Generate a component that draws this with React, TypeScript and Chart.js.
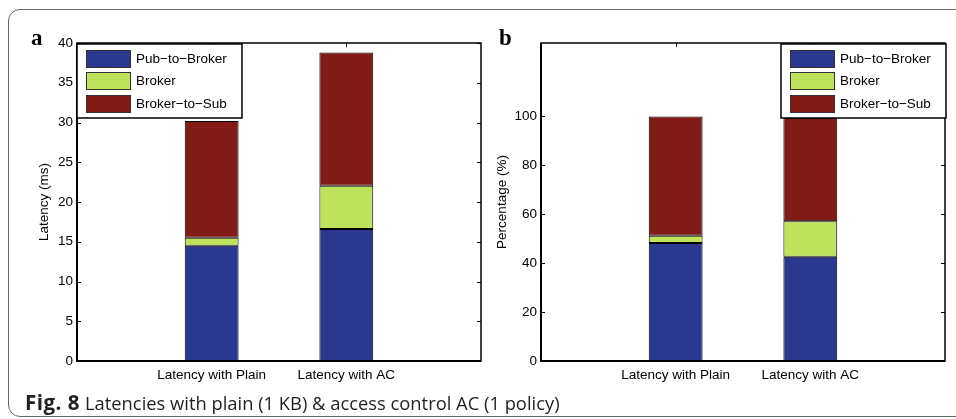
import React, { useEffect, useRef } from 'react';
import { Chart, registerables } from 'chart.js';

Chart.register(...registerables);

// ---- data ----
const categories = ['Latency with Plain', 'Latency with AC'];
const seriesNames = ['Pub\u2212to\u2212Broker', 'Broker', 'Broker\u2212to\u2212Sub'];
const seriesColors = ['#2C388F', '#BEE35B', '#821A15'];

const latencyPubToBroker = [14.5, 16.6];
const latencyBroker = [1.0, 5.45];
const latencyBrokerToSub = [14.7, 16.75];

const percentPubToBroker = [48.2, 42.6];
const percentBroker = [3.0, 14.5];
const percentBrokerToSub = [48.8, 42.2];

const latencyTicks = [0, 5, 10, 15, 20, 25, 30, 35, 40];
const percentTicks = [0, 20, 40, 60, 80, 100];

const FONT = '"Liberation Sans", Arial, sans-serif';
const FS = 13.5;

const axesBoxPlugin = {
  id: 'axesBox',
  beforeDatasetsDraw(chart: any) {
    const { ctx, chartArea: a, scales } = chart;
    const tl = 4;
    ctx.save();
    ctx.strokeStyle = '#000';
    ctx.lineWidth = 1;
    ctx.beginPath();
    scales.y.ticks.forEach((t: any) => {
      const py = Math.round(scales.y.getPixelForValue(t.value)) + 0.5;
      ctx.moveTo(a.left, py);
      ctx.lineTo(a.left + tl, py);
      ctx.moveTo(a.right, py);
      ctx.lineTo(a.right - tl, py);
    });
    scales.x.ticks.forEach((t: any) => {
      const px = Math.round(scales.x.getPixelForValue(t.value)) + 0.5;
      ctx.moveTo(px, a.top);
      ctx.lineTo(px, a.top + tl);
      ctx.moveTo(px, a.bottom);
      ctx.lineTo(px, a.bottom - tl);
    });
    ctx.stroke();
    ctx.restore();
  },
  afterDatasetsDraw(chart: any) {
    const { ctx, chartArea: a } = chart;
    ctx.save();
    ctx.strokeStyle = '#000';
    ctx.lineWidth = 1.5;
    ctx.strokeRect(a.left, a.top, a.right - a.left, a.bottom - a.top);
    ctx.lineWidth = 2;
    ctx.beginPath();
    ctx.moveTo(a.left, a.top);
    ctx.lineTo(a.left, a.bottom);
    ctx.lineTo(a.right, a.bottom);
    ctx.stroke();
    ctx.restore();
  },
};

const boxLegendPlugin = {
  id: 'boxLegend',
  afterDraw(chart: any, _args: any, opts: any) {
    const { ctx, chartArea: a } = chart;
    const w = 165;
    const h = 74;
    const x = opts.align === 'right' ? a.right - w + 1 : a.left;
    const y = a.top + 1;
    ctx.save();
    ctx.fillStyle = '#fff';
    ctx.fillRect(x, y, w, h);
    ctx.strokeStyle = '#000';
    ctx.lineWidth = 1.5;
    ctx.strokeRect(x, y, w, h);
    chart.data.datasets.forEach((ds: any, i: number) => {
      const ry = Math.round(y + 6 + i * 22.3);
      ctx.fillStyle = ds.backgroundColor;
      ctx.fillRect(x + 9, ry, 44, 17);
      ctx.strokeStyle = '#333';
      ctx.lineWidth = 1;
      ctx.strokeRect(x + 9.5, ry + 0.5, 44, 17);
      ctx.fillStyle = '#000';
      ctx.font = `${FS}px ${FONT}`;
      ctx.textBaseline = 'middle';
      ctx.textAlign = 'left';
      ctx.fillText(ds.label, x + 59, ry + 9);
    });
    ctx.restore();
  },
};

function makeConfig(values: number[][], yTicks: number[], yMax: number, yTitle: string, pad: any, yWidth: number, titlePad: number, legendAlign: string): any {
  return {
    type: 'bar',
    data: {
      datasets: values.map((vals, i) => ({
        label: seriesNames[i],
        data: vals.map((v, j) => ({ x: j + 1, y: v })),
        backgroundColor: seriesColors[i],
        borderColor: '#000',
        borderWidth: 1,
        borderSkipped: false,
        barPercentage: 0.4,
        categoryPercentage: 1,
      })),
    },
    options: {
      animation: false,
      responsive: false,
      maintainAspectRatio: false,
      layout: { padding: pad },
      plugins: {
        legend: { display: false },
        tooltip: { enabled: false },
        boxLegend: { align: legendAlign },
      },
      scales: {
        x: {
          type: 'linear',
          stacked: true,
          offset: false,
          min: 0,
          max: 3,
          grid: { display: false, drawTicks: false, offset: false },
          border: { display: false },
          afterBuildTicks: (s: any) => {
            s.ticks = categories.map((_, i) => ({ value: i + 1 }));
          },
          afterFit: (s: any) => {
            s.height = 58;
          },
          ticks: {
            autoSkip: false,
            maxRotation: 0,
            padding: 6,
            color: '#000',
            font: { family: FONT, size: FS },
            callback: (v: any) => categories[Math.round(v) - 1] ?? '',
          },
        },
        y: {
          stacked: true,
          min: 0,
          max: yMax,
          grid: { display: false, drawTicks: false },
          border: { display: false },
          afterBuildTicks: (s: any) => {
            s.ticks = yTicks.map((v) => ({ value: v }));
          },
          afterFit: (s: any) => {
            s.width = yWidth;
          },
          ticks: {
            padding: 4,
            color: '#000',
            font: { family: FONT, size: FS },
          },
          title: {
            display: true,
            text: yTitle,
            color: '#000',
            font: { family: FONT, size: FS },
            padding: { top: titlePad, bottom: 0 },
          },
        },
      },
    },
    plugins: [axesBoxPlugin, boxLegendPlugin],
  };
}

function ChartCanvas({ config, left, width }: { config: any; left: number; width: number }) {
  const ref = useRef<HTMLCanvasElement>(null);
  useEffect(() => {
    if (!ref.current) return;
    const chart = new Chart(ref.current, config);
    return () => chart.destroy();
  }, []);
  return (
    <canvas
      ref={ref}
      width={width}
      height={419}
      style={{ position: 'absolute', left, top: 0, width, height: 419 }}
    />
  );
}

export default function App() {
  const leftConfig = makeConfig(
    [latencyPubToBroker, latencyBroker, latencyBrokerToSub],
    latencyTicks,
    40,
    'Latency (ms)',
    { top: 43, right: 9, bottom: 0, left: 30 },
    47,
    6.4,
    'left'
  );
  const rightConfig = makeConfig(
    [percentPubToBroker, percentBroker, percentBrokerToSub],
    percentTicks,
    130,
    'Percentage (%)',
    { top: 43, right: 11, bottom: 0, left: 0 },
    51,
    4.4,
    'right'
  );
  return (
    <div style={{ position: 'absolute', left: 0, top: 0, width: 956, height: 419, overflow: 'hidden', background: '#fff' }}>
      <div
        style={{
          position: 'absolute',
          left: 8,
          top: 9,
          width: 1100,
          height: 408,
          border: '1px solid #666',
          borderRadius: 12,
          boxSizing: 'border-box',
        }}
      />
      <ChartCanvas config={leftConfig} left={0} width={490} />
      <ChartCanvas config={rightConfig} left={490} width={466} />
      <div style={{ position: 'absolute', left: 31, top: 25.7, fontFamily: '"Liberation Serif", serif', fontWeight: 'bold', fontSize: 23, lineHeight: '23px' }}>a</div>
      <div style={{ position: 'absolute', left: 499, top: 25.7, fontFamily: '"Liberation Serif", serif', fontWeight: 'bold', fontSize: 23, lineHeight: '23px' }}>b</div>
      <div
        style={{
          position: 'absolute',
          left: 25,
          top: 393,
          fontFamily: '"Open Sans", sans-serif',
          lineHeight: '18px',
          color: '#231F20',
          whiteSpace: 'nowrap',
        }}
      >
        <span style={{ fontWeight: 'bold', fontSize: 20.5, letterSpacing: 0.5 }}>Fig. 8</span>
        <span style={{ marginLeft: 5, fontSize: 18.35 }}>Latencies with plain (1 KB) &amp; access control AC (1 policy)</span>
      </div>
    </div>
  );
}
